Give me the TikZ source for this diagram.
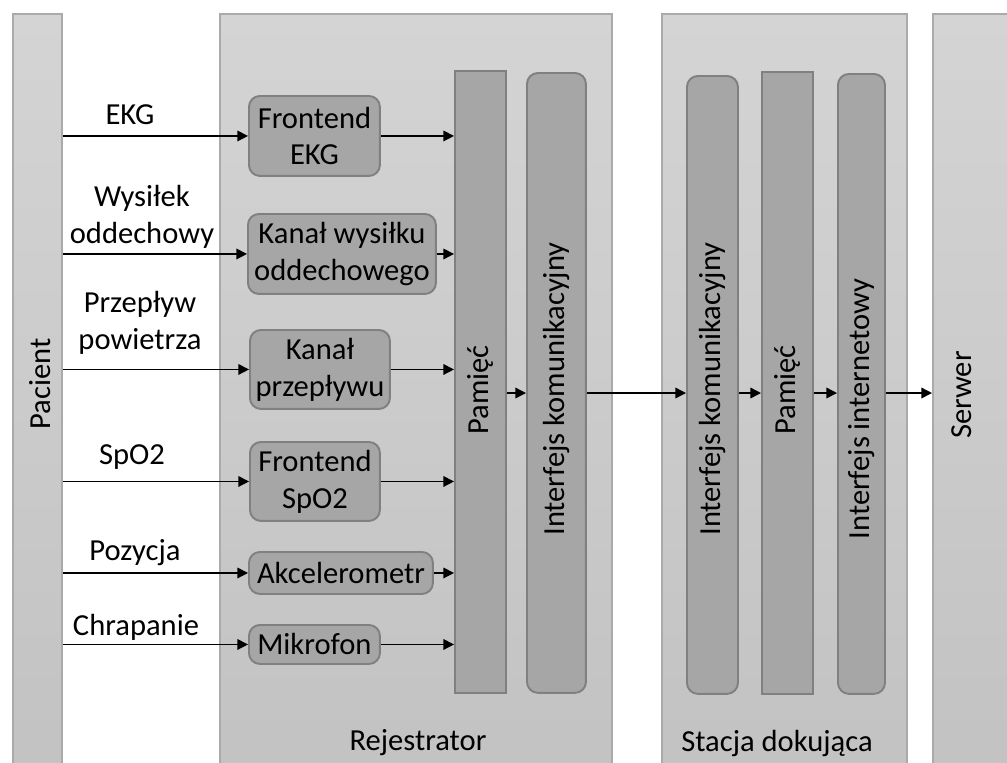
\documentclass[tikz,border=0pt]{standalone}
\usepackage{fontspec}
\setmainfont{Carlito}
\usetikzlibrary{arrows.meta}

\definecolor{boxtop}{HTML}{D4D4D4}
\definecolor{boxbot}{HTML}{C2C2C2}
\definecolor{boxline}{HTML}{AAAAAA}
\definecolor{blockfill}{HTML}{A6A6A6}
\definecolor{blockline}{HTML}{808080}

\begin{document}
\begin{tikzpicture}[x=0.02cm, y=-0.02cm,
    every node/.style={font=\fontsize{17.4}{21}\selectfont, text=black},
    part/.style={draw=boxline, line width=1.1pt, top color=boxtop, bottom color=boxbot,
        anchor=north west, inner sep=0pt},
    block/.style={draw=blockline, line width=1.1pt, fill=blockfill, anchor=north west, inner sep=0pt},
    rblock/.style={block, rounded corners=0.22cm},
    sig/.style={-{Triangle[length=6pt,width=6pt]}, line width=0.8pt}
]
    \useasboundingbox (0,0) rectangle (1007,762);
    \clip (0,0) rectangle (1007,762);

    % Main parts
    \node[part, minimum width=0.98cm, minimum height=15.4cm] (pacient) at (12,13) {};
    \node[part, minimum width=7.84cm, minimum height=15.4cm] (rej) at (219,13) {};
    \node[part, minimum width=4.9cm, minimum height=15.4cm] (stacja) at (661,13) {};
    \node[part, minimum width=2cm, minimum height=15.4cm] (serwer) at (932,13) {};

    % Memory and interfaces
    \node[block, minimum width=1.02cm, minimum height=12.44cm] (pamR) at (454,70) {};
    \node[rblock, minimum width=1.18cm, minimum height=12.4cm] (ikR) at (526,72) {};
    \node[rblock, minimum width=1.02cm, minimum height=12.36cm] (ikS) at (686,75) {};
    \node[block, minimum width=1.02cm, minimum height=12.44cm] (pamS) at (761,71) {};
    \node[rblock, minimum width=0.94cm, minimum height=12.4cm] (iiS) at (837,73) {};

    % Sensor channels
    \node[rblock, minimum width=2.62cm, minimum height=1.6cm, align=center] (fekg) at (248,95) {Frontend\\EKG};
    \node[rblock, minimum width=3.76cm, minimum height=1.6cm, align=center] (kwo) at (247,213) {Kanał wysiłku\\oddechowego};
    \node[rblock, minimum width=2.8cm, minimum height=1.58cm, align=center] (kp) at (249,329) {Kanał\\przepływu};
    \node[rblock, minimum width=2.6cm, minimum height=1.58cm, align=center] (fspo) at (249,441) {Frontend\\SpO2};
    \node[rblock, minimum width=3.68cm, minimum height=0.84cm] (akc) at (248,551) {Akcelerometr};
    \node[rblock, minimum width=2.62cm, minimum height=0.78cm] (mik) at (248,624) {Mikrofon};

    % Signals
    \foreach \b in {fekg,kwo,kp,fspo,akc,mik} {
        \draw[sig] (pacient.east |- \b.west) -- (\b.west);
        \draw[sig] (\b.east) -- (pamR.west |- \b.east);
    }
    \node (lekg) at (130,115) {EKG};
    \node[align=center] (lwys) at (142,217) {Wysiłek\\oddechowy};
    \node[align=center] (lprz) at (140,323) {Przepływ\\powietrza};
    \node (lspo) at (132,457) {SpO2};
    \node (lpoz) at (135,553) {Pozycja};
    \node (lchr) at (136,627) {Chrapanie};

    % Data path
    \coordinate (flow) at (0,393);
    \draw[sig] (pamR.east |- flow) -- (ikR.west |- flow);
    \draw[sig] (ikR.east |- flow) -- (ikS.west |- flow);
    \draw[sig] (ikS.east |- flow) -- (pamS.west |- flow);
    \draw[sig] (pamS.east |- flow) -- (iiS.west |- flow);
    \draw[sig] (iiS.east |- flow) -- (serwer.west |- flow);

    % Labels
    \node[rotate=90] (tpac) at (40,384) {Pacient};
    \node[rotate=90] (tpamR) at (pamR |- 0,390) {Pamięć};
    \node[rotate=90] (tikR) at (ikR |- 0,389) {Interfejs komunikacyjny};
    \node[rotate=90] (tikS) at (ikS |- 0,389) {Interfejs komunikacyjny};
    \node[rotate=90] (tpamS) at (pamS |- 0,390) {Pamięć};
    \node[rotate=90] (tiiS) at (iiS |- 0,409) {Interfejs internetowy};
    \node[rotate=90] (tser) at (962,395) {Serwer};
    \node (trej) at (418,743) {Rejestrator};
    \node (tsta) at (777,743) {Stacja dokująca};
\end{tikzpicture}
\end{document}
